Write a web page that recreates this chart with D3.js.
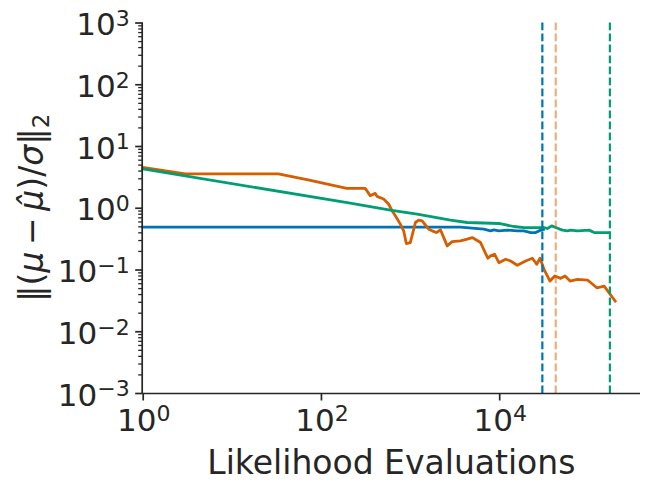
<!DOCTYPE html>
<meta charset="utf-8">
<head>
<style>
  body { margin: 0; background: #fff; }
  text { font-family: "DejaVu Sans", sans-serif; fill: #262626; }
</style>
</head>
<title>Likelihood evaluations</title>
<script src="https://d3js.org/d3.v7.min.js"></script>
<div id="chart"></div>
<script>
// blue run
var blueX = [1, 3680, 6730, 8000, 8710, 9930, 12340, 15980, 18950, 22550, 25680, 29240, 31330];
var blueY = [0.485, 0.485, 0.451, 0.423, 0.439, 0.423, 0.434, 0.423, 0.423, 0.397, 0.397, 0.434, 0.444];

// orange run
var orangeX = [1, 3, 33.3, 63, 71.8, 195, 314, 357, 407, 425, 505, 574, 628, 684, 778, 847, 908, 1007,
  1148, 1250, 1365, 1619, 1767, 1976, 2193, 2608, 2967, 3680, 4377, 4981, 6180, 7460, 8000, 8870,
  9930, 11800, 13430, 15980, 19800, 23570, 26360, 28710, 31840, 37190, 41990, 49080, 54820, 62400,
  75620, 97980, 124700, 150600, 200300];
var orangeY = [4.52, 3.53, 3.53, 2.93, 2.82, 2.06, 2.06, 1.57, 1.71, 1.53, 1.385, 1.15, 0.894, 0.741,
  0.543, 0.423, 0.263, 0.273, 0.577, 0.631, 0.615, 0.450, 0.423, 0.397, 0.439, 0.241, 0.283, 0.291,
  0.310, 0.329, 0.273, 0.152, 0.166, 0.177, 0.129, 0.1466, 0.1375, 0.117, 0.1375, 0.152, 0.1215,
  0.152, 0.1007, 0.065, 0.0784, 0.0719, 0.0784, 0.065, 0.0693, 0.0675, 0.0506, 0.0539, 0.0308];

// green run
var greenX = [1, 213, 600, 1200, 2840, 4377, 9930, 14630, 18950, 31840, 34760, 38830, 43060, 51230,
  58340, 63550, 75620, 102100, 116200, 171500];
var greenY = [4.26, 1.19, 0.918, 0.790, 0.631, 0.577, 0.556, 0.497, 0.478, 0.478, 0.461, 0.509,
  0.478, 0.434, 0.423, 0.434, 0.423, 0.434, 0.397, 0.397];

// where each run stopped (dashed lines)
var stopX = [30500, 43100, 174600];
var stopColor = ["#0173b2", "#d55e00", "#029e73"];
var stopOpacity = [1, 0.5, 1];

var xTicks = [1, 100, 10000];
var xTickExp = ["0", "2", "4"];
var yTicks = [1e-3, 1e-2, 1e-1, 1, 10, 100, 1000];
var yTickExp = ["\u22123", "\u22122", "\u22121", "0", "1", "2", "3"];

var W = 648, H = 487;
var mLeft = 142.7, mRight = 640, mTop = 22.5, mBottom = 393;

var svg = d3.select("#chart").append("svg")
  .attr("width", W)
  .attr("height", H);

var x = d3.scaleLog().domain([1, Math.pow(10, 5.58)]).range([mLeft, mRight]);
var y = d3.scaleLog().domain([1e-3, 1e3]).range([mBottom, mTop]);

var line = d3.line()
  .x(function(d) { return x(d[0]); })
  .y(function(d) { return y(d[1]); });

function pairs(xs, ys) {
  return xs.map(function(v, i) { return [v, ys[i]]; });
}

var series = [
  {xs: blueX, ys: blueY, color: "#0173b2"},
  {xs: orangeX, ys: orangeY, color: "#d55e00"},
  {xs: greenX, ys: greenY, color: "#029e73"}
];

svg.selectAll("path.run")
  .data(series)
  .enter()
  .append("path")
  .attr("class", "run")
  .attr("d", function(d) { return line(pairs(d.xs, d.ys)); })
  .attr("fill", "none")
  .attr("stroke", function(d) { return d.color; })
  .attr("stroke-width", 2.8)
  .attr("stroke-linejoin", "round")
  .attr("stroke-linecap", "square");

// vertical dashed lines
svg.selectAll("line.stop")
  .data(stopX)
  .enter()
  .append("line")
  .attr("class", "stop")
  .attr("x1", function(d) { return x(d); })
  .attr("x2", function(d) { return x(d); })
  .attr("y1", mTop)
  .attr("y2", mBottom)
  .attr("stroke", function(d, i) { return stopColor[i]; })
  .attr("stroke-opacity", function(d, i) { return stopOpacity[i]; })
  .attr("stroke-width", 2.2)
  .attr("stroke-dasharray", "7.7,3.3");

// x axis
var xAxis = svg.append("g")
  .attr("transform", "translate(0," + mBottom + ")")
  .call(d3.axisBottom(x).tickValues(xTicks).tickSize(7.5).tickFormat(""));

// y axis, minor ticks first
var yMinor = [];
yTicks.slice(0, -1).forEach(function(t) {
  for (var k = 2; k < 10; k++) yMinor.push(t * k);
});
svg.append("g")
  .attr("transform", "translate(" + mLeft + ",0)")
  .call(d3.axisLeft(y).tickValues(yMinor).tickSize(4.5).tickFormat(""))
  .call(function(g) { g.select(".domain").remove(); })
  .selectAll("line").attr("stroke-width", 1.3);
var yAxis = svg.append("g")
  .attr("transform", "translate(" + mLeft + ",0)")
  .call(d3.axisLeft(y).tickValues(yTicks).tickSize(7.5).tickFormat(""));

svg.selectAll(".domain")
  .attr("stroke", "#262626")
  .attr("stroke-width", 1.7);
xAxis.selectAll(".tick line").attr("stroke-width", 1.7);
yAxis.selectAll(".tick line").attr("stroke-width", 1.7);
svg.selectAll(".tick line").attr("stroke", "#262626");

// plain spines, no outer ticks
xAxis.select(".domain").attr("d", "M" + mLeft + ",0.5H" + mRight);
yAxis.select(".domain").attr("d", "M-0.5," + mBottom + "V" + mTop);

// tick labels 10^n
svg.selectAll("text.xlab")
  .data(xTicks)
  .enter()
  .append("text")
  .attr("class", "xlab")
  .attr("x", function(d) { return x(d) + 1; })
  .attr("y", mBottom + 38)
  .attr("text-anchor", "middle")
  .style("font-size", "31px")
  .each(function(d, i) {
    var t = d3.select(this);
    t.append("tspan").text("10");
    t.append("tspan").attr("dy", -10).style("font-size", "22px").text(xTickExp[i]);
  });

svg.selectAll("text.ylab")
  .data(yTicks)
  .enter()
  .append("text")
  .attr("class", "ylab")
  .attr("x", mLeft - 13)
  .attr("y", function(d) { return y(d) + 12.7; })
  .attr("text-anchor", "end")
  .style("font-size", "31px")
  .each(function(d, i) {
    var t = d3.select(this);
    t.append("tspan").text("10");
    t.append("tspan").attr("dy", -9.3).style("font-size", "22px").text(yTickExp[i]);
  });

// axis titles
svg.append("text")
  .attr("x", (mLeft + mRight) / 2)
  .attr("y", 474)
  .attr("text-anchor", "middle")
  .style("font-size", "33px")
  .text("Likelihood Evaluations");

var ylab = svg.append("text")
  .attr("transform", "translate(43," + ((mTop + mBottom) / 2) + ") rotate(-90)")
  .attr("text-anchor", "middle")
  .style("font-size", "33px");
ylab.append("tspan").text("\u2016(");
ylab.append("tspan").style("font-style", "italic").text("\u03bc");
ylab.append("tspan").text("\u2009\u2212\u2009");
ylab.append("tspan").style("font-style", "italic").text("\u03bc\u0302");
ylab.append("tspan").text(")/");
ylab.append("tspan").style("font-style", "italic").text("\u03c3");
ylab.append("tspan").text("\u2016");
ylab.append("tspan").attr("dy", 6).style("font-size", "23px").text("2");
</script>
